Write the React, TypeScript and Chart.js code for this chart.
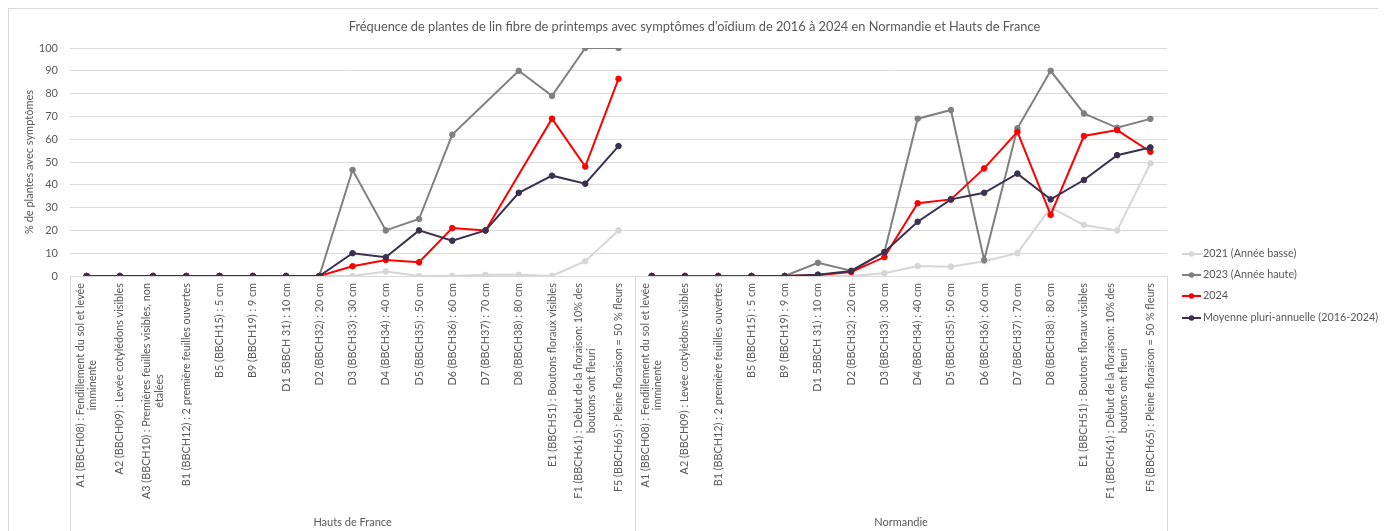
import React, { useEffect, useRef } from "react";
import { Chart, registerables } from "chart.js";

Chart.register(...registerables);

const TITLE =
  "Fréquence de plantes de lin fibre de printemps avec symptômes d'oïdium de 2016 à 2024 en Normandie et Hauts de France";
const Y_TITLE = "% de plantes avec symptômes";
const GROUPS = ["Hauts de France", "Normandie"];

const STAGES_HDF: string[][] = [
  ["A1 (BBCH08) : Fendillement du sol et levée", "imminente"],
  ["A2 (BBCH09) : Levée cotylédons visibles"],
  ["A3 (BBCH10) : Premières feuilles visibles, non", "étalées"],
  ["B1 (BBCH12) : 2 première feuilles ouvertes"],
  ["B5 (BBCH15) : 5 cm"],
  ["B9 (BBCH19) : 9 cm"],
  ["D1 5BBCH 31) : 10 cm"],
  ["D2 (BBCH32) : 20 cm"],
  ["D3 (BBCH33) : 30 cm"],
  ["D4 (BBCH34) : 40 cm"],
  ["D5 (BBCH35) : 50 cm"],
  ["D6 (BBCH36) : 60 cm"],
  ["D7 (BBCH37) : 70 cm"],
  ["D8 (BBCH38) : 80 cm"],
  ["E1 (BBCH51) : Boutons floraux visibles"],
  ["F1 (BBCH61) : Début de la floraison: 10% des", "boutons ont fleuri"],
  ["F5 (BBCH65) : Pleine floraison = 50 % fleurs"],
];

const STAGES_NOR: string[][] = [
  ["A1 (BBCH08) : Fendillement du sol et levée", "imminente"],
  ["A2 (BBCH09) : Levée cotylédons visibles"],
  ["B1 (BBCH12) : 2 première feuilles ouvertes"],
  ["B5 (BBCH15) : 5 cm"],
  ["B9 (BBCH19) : 9 cm"],
  ["D1 5BBCH 31) : 10 cm"],
  ["D2 (BBCH32) : 20 cm"],
  ["D3 (BBCH33) : 30 cm"],
  ["D4 (BBCH34) : 40 cm"],
  ["D5 (BBCH35) : 50 cm"],
  ["D6 (BBCH36) : 60 cm"],
  ["D7 (BBCH37) : 70 cm"],
  ["D8 (BBCH38) : 80 cm"],
  ["E1 (BBCH51) : Boutons floraux visibles"],
  ["F1 (BBCH61) : Début de la floraison: 10% des", "boutons ont fleuri"],
  ["F5 (BBCH65) : Pleine floraison = 50 % fleurs"],
];

const SERIES_NAMES = [
  "2021 (Année basse)",
  "2023 (Année haute)",
  "2024",
  "Moyenne pluri-annuelle (2016-2024)",
];

// Hauts de France
const HDF_2021 = [0, 0, 0, 0, 0, 0, 0, 0, 0, 2, 0, 0, 0.5, 0.5, 0, 6.5, 20];
const HDF_2023 = [0, 0, 0, 0, 0, 0, 0, 0, 46.5, 20, 25, 62, null, 90, 79, 100, 100];
const HDF_2024 = [0, 0, 0, 0, 0, 0, 0, 0, 4.3, 7, 6, 21, 20, null, 69, 48, 86.5];
const HDF_MOY = [0, 0, 0, 0, 0, 0, 0, 0, 10, 8.2, 20, 15.5, 20, 36.5, 44, 40.5, 57];

// Normandie
const NOR_2021 = [0, 0, 0, 0, 0, 0, 0, 1.2, 4.4, 4.1, 6.5, 10, 30, 22.4, 20, 49.4];
const NOR_2023 = [0, 0, 0, 0, 0, 5.8, 2.3, 10.5, 69, 72.8, 7, 64.8, 90, 71.3, 65, 68.9];
const NOR_2024 = [0, 0, 0, 0, 0, 0.4, 1.8, 8.3, 31.9, 33.6, 47.2, 63.2, 26.8, 61.4, 64, 54.5];
const NOR_MOY = [0, 0, 0, 0, 0, 0.6, 2.2, 10.5, 23.8, 33.6, 36.5, 44.9, 33.6, 42.1, 53, 56.4];

const COLORS = ["#d6d6d6", "#808080", "#ff0000", "#3b3050"];

const FONT = "Lato, 'Liberation Sans', sans-serif";
const TXT = "#595959";
const GRID = "#d9d9d9";

const N_HDF = STAGES_HDF.length;
const ALL_STAGES = [...STAGES_HDF, ...STAGES_NOR];

export default function App() {
  const ref = useRef<HTMLCanvasElement | null>(null);

  useEffect(() => {
    document.documentElement.style.overflow = "hidden";
    document.body.style.overflow = "hidden";
    const canvas = ref.current;
    if (!canvas) return;

    const seriesData = [
      [...HDF_2021, ...NOR_2021],
      [...HDF_2023, ...NOR_2023],
      [...HDF_2024, ...NOR_2024],
      [...HDF_MOY, ...NOR_MOY],
    ];

    const datasets = SERIES_NAMES.map((name, i) => ({
      label: name,
      data: seriesData[i],
      borderColor: COLORS[i],
      backgroundColor: COLORS[i],
      pointBackgroundColor: COLORS[i],
      pointBorderColor: COLORS[i],
      pointRadius: 2.8,
      pointHoverRadius: 2.8,
      pointBorderWidth: 1,
      borderWidth: 2,
      tension: 0,
      spanGaps: true,
      order: 4 - i,
      segment: {
        borderColor: (c: any) => {
          if (c.p0DataIndex === N_HDF - 1) return "transparent";
          if (i === 3 && c.p0DataIndex >= N_HDF && c.p0DataIndex < N_HDF + 3) return "transparent";
          return undefined;
        },
      },
    }));

    const decor = {
      id: "decor",
      beforeDraw(chart: any) {
        const { ctx, width, height } = chart;
        ctx.save();
        ctx.fillStyle = "#ffffff";
        ctx.fillRect(0, 0, width, height);
        ctx.strokeStyle = GRID;
        ctx.lineWidth = 1;
        ctx.strokeRect(0.5, 0.5, width - 1, height - 1);
        ctx.restore();
      },
      afterDraw(chart: any) {
        const { ctx, chartArea: a, height } = chart;
        const x = chart.scales.x;
        ctx.save();
        // title
        ctx.fillStyle = TXT;
        ctx.font = `12.8px ${FONT}`;
        ctx.textAlign = "center";
        ctx.textBaseline = "middle";
        ctx.fillText(TITLE, 686.5, 19);

        // category box lines
        const split = (x.getPixelForValue(N_HDF - 1) + x.getPixelForValue(N_HDF)) / 2;
        ctx.strokeStyle = GRID;
        ctx.lineWidth = 1;
        [a.left, split, a.right].forEach((px: number) => {
          const xx = Math.round(px) + 0.5;
          ctx.beginPath();
          ctx.moveTo(xx, a.bottom);
          ctx.lineTo(xx, height);
          ctx.stroke();
        });

        // stage labels
        ctx.fillStyle = TXT;
        ALL_STAGES.forEach((lines, i) => {
          const px = x.getPixelForValue(i);
          ctx.save();
          ctx.translate(px, a.bottom + 7);
          ctx.rotate(-Math.PI / 2);
          ctx.font = `10.8px ${FONT}`;
          ctx.textAlign = "center";
          ctx.textBaseline = "middle";
          const w = Math.max(...lines.map((l) => ctx.measureText(l).width));
          lines.forEach((l, j) => {
            ctx.fillText(l, -w / 2, (j - (lines.length - 1) / 2) * 12.5);
          });
          ctx.restore();
        });

        // group labels
        ctx.font = `11px ${FONT}`;
        ctx.textAlign = "center";
        ctx.textBaseline = "middle";
        ctx.fillText(GROUPS[0], (a.left + split) / 2, 514);
        ctx.fillText(GROUPS[1], (split + a.right) / 2, 514);

        // legend
        const rows = [246, 267, 288, 310];
        ctx.textAlign = "left";
        chart.data.datasets.forEach((ds: any, i: number) => {
          const y = rows[i];
          ctx.strokeStyle = ds.borderColor;
          ctx.lineWidth = 2;
          ctx.beginPath();
          ctx.moveTo(1174, y);
          ctx.lineTo(1193, y);
          ctx.stroke();
          ctx.fillStyle = ds.borderColor;
          ctx.beginPath();
          ctx.arc(1183.5, y, 2.8, 0, Math.PI * 2);
          ctx.fill();
          ctx.fillStyle = TXT;
          ctx.font = `10.8px ${FONT}`;
          ctx.fillText(ds.label, 1195, y);
        });
        ctx.restore();
      },
    };

    const chart = new Chart(canvas, {
      type: "line",
      data: {
        labels: ALL_STAGES.map((l) => l.join(" ")),
        datasets: datasets as any,
      },
      options: {
        animation: false,
        responsive: true,
        maintainAspectRatio: false,
        layout: { padding: { top: 40, right: 231, bottom: 262, left: 0 } },
        plugins: {
          legend: { display: false },
          title: { display: false },
          tooltip: { enabled: false },
        },
        scales: {
          x: { type: "category", offset: true, display: false },
          y: {
            min: 0,
            max: 100,
            ticks: {
              stepSize: 10,
              color: TXT,
              font: { family: FONT, size: 11 },
              padding: 12,
            },
            grid: { color: GRID, drawTicks: false },
            border: { display: false },
            title: {
              display: true,
              text: Y_TITLE,
              color: TXT,
              font: { family: FONT, size: 11 },
              padding: { top: 15, bottom: 0 },
            },
            afterFit: (s: any) => {
              s.width = 62;
            },
          },
        },
      },
      plugins: [decor],
    });

    return () => chart.destroy();
  }, []);

  return (
    <div style={{ width: 1390, height: 530, position: "relative" }}>
      <canvas ref={ref} />
    </div>
  );
}
